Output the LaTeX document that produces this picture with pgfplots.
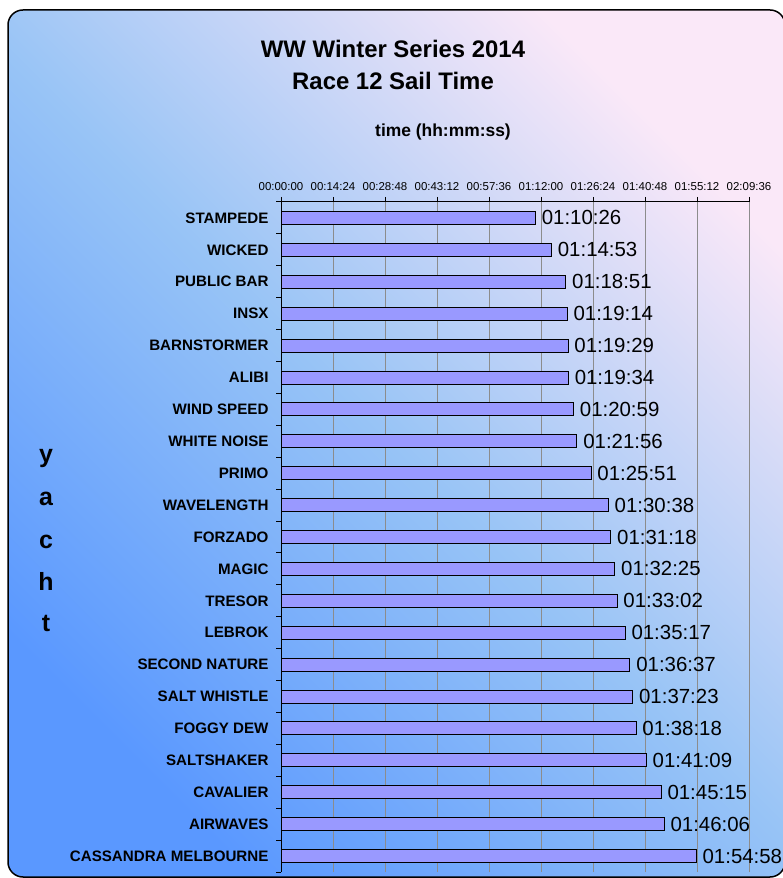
\documentclass[border=0pt]{standalone}
\usepackage{pgfplots}
\pgfplotsset{compat=1.18}
\usepackage{fontspec}
\setmainfont{Liberation Sans}
\definecolor{barblue}{HTML}{9999FF}
\definecolor{bgA}{HTML}{5A98FF}
\definecolor{bgB}{HTML}{98C4F6}
\definecolor{bgC}{HTML}{FAE8F8}
\definecolor{gridgray}{HTML}{8C8C8C}
\begin{document}
\begin{tikzpicture}
\useasboundingbox (0,0) rectangle (783bp,878bp);
\shade[rounded corners=15bp, top color=bgC, bottom color=bgA, middle color=bgB, shading angle=-45] (8bp,1bp) rectangle (785bp,868bp);
\draw[rounded corners=15bp, line width=1.5bp] (8bp,1bp) rectangle (785bp,868bp);
\node[font=\bfseries\fontsize{24}{28}\selectfont, anchor=base] at (393bp,820bp) {WW Winter Series 2014};
\node[font=\bfseries\fontsize{24}{28}\selectfont, anchor=base] at (393bp,788bp) {Race 12 Sail Time};
\node[font=\bfseries\fontsize{17.5}{21}\selectfont, anchor=base] at (443bp,741bp) {time (hh:mm:ss)};
\foreach \ch/\yy in {y/415, a/372, c/329, h/287, t/246}
  \node[font=\bfseries\fontsize{25}{30}\selectfont, anchor=base] at (46bp,\yy bp) {\ch};
\begin{axis}[
  at={(281bp,6bp)}, anchor=south west,
  scale only axis, width=468bp, height=670bp,
  xmin=0, xmax=7776, ymin=-0.5, ymax=20.5,
  axis x line=top, axis y line=left,
  axis line style={-, line width=1bp, black},
  clip=false,
  xtick={0,864,...,7776},
  xticklabels={00:00:00,00:14:24,00:28:48,00:43:12,00:57:36,01:12:00,01:26:24,01:40:48,01:55:12,02:09:36},
  xticklabel style={font=\fontsize{11.5}{13}\selectfont, yshift=3bp},
  xmajorgrids, grid style={gridgray, line width=0.8bp},
  ytick={0,...,20},
  yticklabels={CASSANDRA MELBOURNE,AIRWAVES,CAVALIER,SALTSHAKER,FOGGY DEW,SALT WHISTLE,SECOND NATURE,LEBROK,TRESOR,MAGIC,FORZADO,WAVELENGTH,PRIMO,WHITE NOISE,WIND SPEED,ALIBI,BARNSTORMER,INSX,PUBLIC BAR,WICKED,STAMPEDE},
  yticklabel style={font=\bfseries\fontsize{15.2}{18}\selectfont, xshift=-4bp},
  major y tick style={draw=none},
  minor ytick={-0.5,0.5,...,20.5},
  minor y tick style={black, line width=1bp},
  major x tick style={black, line width=1bp},
  tick align=outside,
  major tick length=5bp, minor tick length=5bp,
]
\addplot[xbar, fill=barblue, draw=black, line width=0.9bp, bar width=13bp,
  nodes near coords, point meta=explicit symbolic,
  nodes near coords style={font=\fontsize{20.5}{24}\selectfont, anchor=west, inner sep=0pt, xshift=6bp}]
coordinates {
(4226,20) [01:10:26]
(4493,19) [01:14:53]
(4731,18) [01:18:51]
(4754,17) [01:19:14]
(4769,16) [01:19:29]
(4774,15) [01:19:34]
(4859,14) [01:20:59]
(4916,13) [01:21:56]
(5151,12) [01:25:51]
(5438,11) [01:30:38]
(5478,10) [01:31:18]
(5545,9) [01:32:25]
(5582,8) [01:33:02]
(5717,7) [01:35:17]
(5797,6) [01:36:37]
(5843,5) [01:37:23]
(5898,4) [01:38:18]
(6069,3) [01:41:09]
(6315,2) [01:45:15]
(6366,1) [01:46:06]
(6898,0) [01:54:58]
};
\end{axis}
\end{tikzpicture}
\end{document}
